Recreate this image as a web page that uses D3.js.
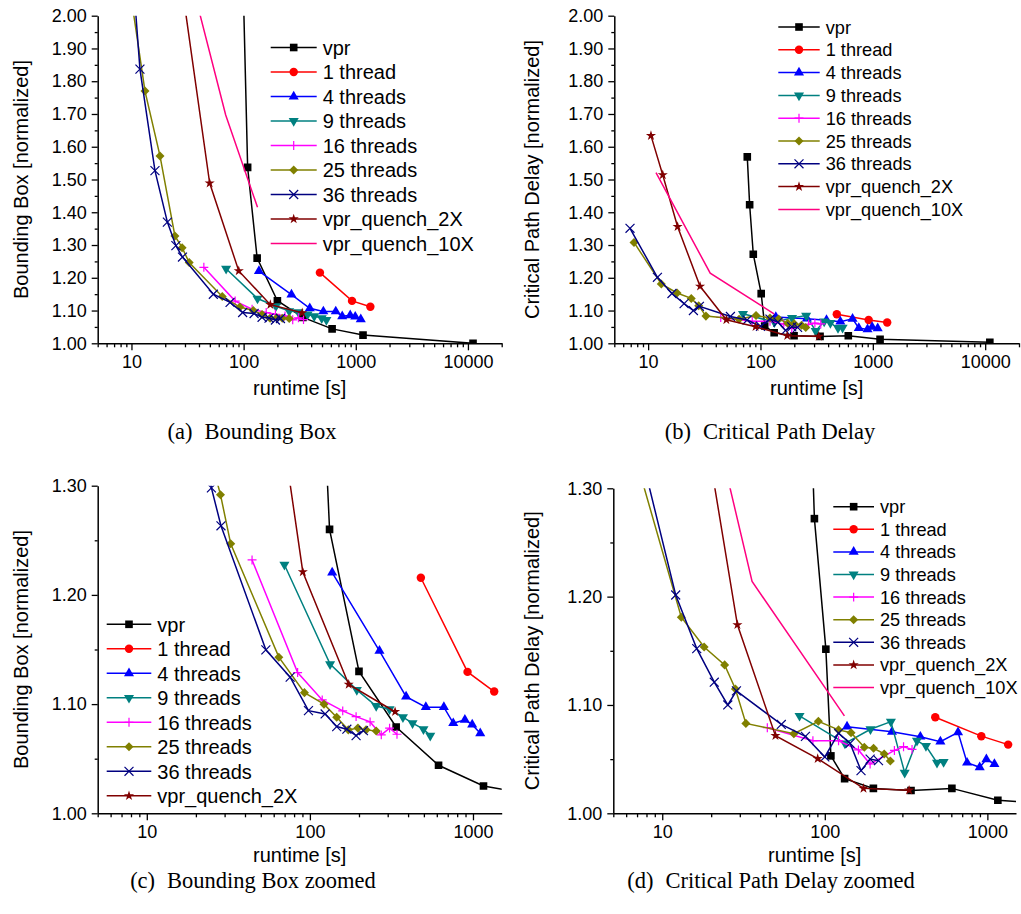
<!DOCTYPE html>
<html>
<head>
<meta charset="utf-8">
<script src="https://cdn.jsdelivr.net/npm/d3@7"></script>
<style>
body { margin: 0; background: #fff; }
</style>
</head>
<body>
<svg width="1021" height="914"></svg>
<script>
// bounding box series  [runtime s, normalized]
const vprBB = [[99,2.1],[108.6,1.537],[132,1.26],[200,1.13],[338,1.079],[615,1.044],[1160,1.025],[11100,1.0]]
const thread1BB = [[479,1.2157],[926,1.1295],[1349,1.1115]]
const thread4BB = [[137,1.2205],[267,1.1488],[389,1.1069],[514,1.0972],[663,1.0972],[757,1.0825],[892,1.0855],[989,1.0812],[1108,1.0733]]
const thread9BB = [[69.8,1.2276],[133,1.1366],[194,1.113],[255,1.0983],[308,1.0953],[372,1.088],[426,1.0825],[497,1.077],[547,1.0711]]
const thread16BB = [[44.2,1.232],[84.1,1.1289],[119,1.1038],[159,1.0938],[192,1.0885],[234,1.0837],[274,1.0718],[308,1.078],[342,1.0724]]
const thread25BB = [[10.2,2.03],[13.2,1.77],[17.96,1.572],[24.4,1.3275],[28.3,1.2918],[32.7,1.2468],[64.5,1.143],[92.6,1.1105],[122,1.0999],[146,1.088],[172,1.0764],[197,1.078],[221,1.0764],[255,1.0754]]
const thread36BB = [[10.8,2.03],[11.9,1.837],[16.2,1.527],[20.9,1.37],[24.9,1.298],[28.5,1.2633],[53.7,1.1497],[75.7,1.1247],[98,1.094],[124,1.091],[146,1.0794],[168.5,1.077],[192,1.0711],[213,1.0757]]
const quench2BB = [[29,2.06],[49.8,1.489],[90.5,1.221],[173,1.118],[333,1.093]]
const quench10BB = [[39,2.03],[69.2,1.697],[133,1.415]]

// critical path delay series
const vprCPD = [[76.3,1.569],[80.1,1.423],[86.3,1.272],[101.5,1.1515],[109,1.053],[132.4,1.032],[199,1.023],[339,1.021],[605,1.023],[1160,1.012],[11000,1.003]]
const thread1CPD = [[478,1.0887],[918,1.0712],[1342,1.0634]]
const thread4CPD = [[137,1.08],[259,1.0753],[387,1.0707],[514,1.0661],[660,1.0748],[750,1.0467],[897,1.0425],[986,1.0499],[1105,1.0455]]
const thread9CPD = [[69.9,1.09],[133,1.0646],[191,1.0776],[255,1.0846],[310,1.0375],[369,1.067],[419,1.0621],[490,1.0467],[538,1.0474]]
const thread16CPD = [[44.3,1.079],[84.5,1.067],[121.5,1.067],[161,1.0585],[190,1.0455],[268,1.058],[305,1.0615],[344,1.059]]
const thread25CPD = [[7.49,1.308],[13.1,1.181],[18.1,1.1535],[24.2,1.137],[28.2,1.1148],[32.7,1.083],[64.5,1.0735],[91.3,1.085],[121.5,1.077],[145,1.0744],[175,1.061],[199.5,1.06],[232,1.0548],[253,1.0483]]
const thread36CPD = [[6.9,1.351],[12.1,1.2015],[16.3,1.152],[20.9,1.121],[25.3,1.1],[28.6,1.113],[54,1.082],[76,1.071],[100,1.052],[121.5,1.074],[143,1.0646],[167,1.0394],[190,1.05],[214,1.0486]]
const quench2CPD = [[10.6,1.634],[13.5,1.514],[18.3,1.356],[29,1.174],[49.7,1.0717],[90.4,1.0505],[173,1.023],[330,1.0213]]
const quench10CPD = [[11.75,1.521],[35.7,1.214],[132,1.09]]

const seriesNames = ["vpr","1 thread","4 threads","9 threads","16 threads","25 threads","36 threads","vpr_quench_2X","vpr_quench_10X"]
const seriesColors = ["#000000","#ff0000","#0000ff","#008080","#ff00ff","#808000","#000080","#800000","#ff0080"]
const seriesMarkers = ["square","circle","triangle","triangleDown","plus","diamond","x","star","none"]
const bbData = [vprBB, thread1BB, thread4BB, thread9BB, thread16BB, thread25BB, thread36BB, quench2BB, quench10BB]
const cpdData = [vprCPD, thread1CPD, thread4CPD, thread9CPD, thread16CPD, thread25CPD, thread36CPD, quench2CPD, quench10CPD]

const xTicksFull = [10, 100, 1000, 10000]
const xTicksZoom = [10, 100, 1000]
const yTicksFull = d3.range(0, 11).map(i => 1 + i / 10)
const yTicksZoom = [1.0, 1.1, 1.2, 1.3]

const panels = [
    {box: [97.7, 15.7, 501.7, 343.3], xDomain: [5, 20000], yDomain: [1, 2], xTicks: xTicksFull, yTicks: yTicksFull,
     data: bbData, yTitle: "Bounding Box [normalized]", titleX: 28, xTitleDy: 52,
     legend: {x: 270.7, y: 47.5, step: 24.5, size: 20, tx: 322.7, count: 9},
     caption: ["(a)", "Bounding Box"], capX: 252, capY: 439},
    {box: [614.3, 15.7, 1019, 343.3], xDomain: [5, 20000], yDomain: [1, 2], xTicks: xTicksFull, yTicks: yTicksFull,
     data: cpdData, yTitle: "Critical Path Delay [normalized]", titleX: 539, xTitleDy: 52,
     legend: {x: 778.3, y: 27, step: 22.8, size: 18.2, tx: 825.7, count: 9},
     caption: ["(b)", "Critical Path Delay"], capX: 770, capY: 439},
    {box: [97.7, 485.7, 501.7, 813.3], xDomain: [5, 1500], yDomain: [1, 1.3], xTicks: xTicksZoom, yTicks: yTicksZoom,
     data: bbData, yTitle: "Bounding Box [normalized]", titleX: 28, xTitleDy: 49,
     legend: {x: 106.7, y: 624.3, step: 24.5, size: 20, tx: 157.3, count: 8},
     caption: ["(c)", "Bounding Box zoomed"], capX: 253, capY: 888},
    {box: [613.3, 488.3, 1016, 813.3], xDomain: [5, 1500], yDomain: [1, 1.3], xTicks: xTicksZoom, yTicks: yTicksZoom,
     data: cpdData, yTitle: "Critical Path Delay [normalized]", titleX: 539, xTitleDy: 49,
     legend: {x: 833.3, y: 506.7, step: 22.6, size: 18.2, tx: 880, count: 9},
     caption: ["(d)", "Critical Path Delay zoomed"], capX: 771, capY: 888}
]

const svg = d3.select("svg")
const sans = "'Liberation Sans', Arial, sans-serif"

const symbolFor = {
    square: d3.symbol().type(d3.symbolSquare).size(58),
    circle: d3.symbol().type(d3.symbolCircle).size(56),
    triangle: d3.symbol().type(d3.symbolTriangle).size(44),
    triangleDown: d3.symbol().type(d3.symbolTriangle).size(44),
    plus: d3.symbol().type(d3.symbolPlus).size(28),
    diamond: d3.symbol().type(d3.symbolDiamond2).size(52),
    x: d3.symbol().type(d3.symbolX).size(54),
    star: d3.symbol().type(d3.symbolStar).size(32)
}
const strokeOnly = m => m === "plus" || m === "x"

const drawMarker = (g, m, color, px, py) => {
    if (m === "none") return
    const p = g.append("path")
        .attr("d", symbolFor[m]())
        .attr("transform", `translate(${px},${py})` + (m === "triangleDown" ? " rotate(180)" : ""))
    if (strokeOnly(m)) p.attr("fill", "none").attr("stroke", color).attr("stroke-width", 1.2)
    else p.attr("fill", color)
}

// minor ticks between decades
const minorLog = (domain) => {
    const out = []
    for (let e = 0; e <= 5; e++) {
        for (let k = 2; k <= 9; k++) {
            const v = k * Math.pow(10, e)
            if (v >= domain[0] && v <= domain[1]) out.push(v)
        }
    }
    return out
}

panels.forEach((p, pi) => {
    const [l, t, r, b] = p.box
    const x = d3.scaleLog().domain(p.xDomain).range([l, r])
    const y = d3.scaleLinear().domain(p.yDomain).range([b, t])

    const clipId = "clip" + pi
    svg.append("clipPath").attr("id", clipId)
        .append("rect").attr("x", l).attr("y", t).attr("width", r - l).attr("height", b - t)

    const plot = svg.append("g").attr("clip-path", `url(#${clipId})`)
    const line = d3.line().x(d => x(d[0])).y(d => y(d[1]))

    p.data.forEach((ser, si) => {
        plot.append("path")
            .attr("d", line(ser))
            .attr("fill", "none")
            .attr("stroke", seriesColors[si])
            .attr("stroke-width", 1.5)
        ser.forEach(d => drawMarker(plot, seriesMarkers[si], seriesColors[si], x(d[0]), y(d[1])))
    })

    // axes
    const yMinor = p.yTicks.slice(0, -1).map(v => v + 0.05)
    svg.append("g").attr("transform", `translate(${l},0)`)
        .call(d3.axisLeft(y).tickValues(yMinor).tickSize(3).tickFormat(""))
        .call(g => g.select(".domain").remove())
    const yAx = svg.append("g").attr("transform", `translate(${l},0)`)
        .call(d3.axisLeft(y).tickValues(p.yTicks).tickFormat(d3.format(".2f")).tickSize(6).tickSizeOuter(0).tickPadding(5))
    yAx.selectAll("text").attr("font-family", sans).attr("font-size", 18).attr("fill", "#000")

    svg.append("g").attr("transform", `translate(0,${b})`)
        .call(d3.axisBottom(x).tickValues(minorLog(p.xDomain)).tickSize(4).tickFormat(""))
        .call(g => g.select(".domain").remove())
    const xAx = svg.append("g").attr("transform", `translate(0,${b})`)
        .call(d3.axisBottom(x).tickValues(p.xTicks).tickFormat(d3.format("d")).tickSize(7).tickSizeOuter(0).tickPadding(5))
    xAx.selectAll("text").attr("font-family", sans).attr("font-size", 18).attr("fill", "#000")

    svg.selectAll(".tick line").attr("stroke", "#000").attr("stroke-width", 1.3)
    svg.selectAll(".domain").attr("stroke", "#000").attr("stroke-width", 1.5)

    // titles
    svg.append("text")
        .attr("x", (l + r) / 2).attr("y", b + p.xTitleDy)
        .attr("text-anchor", "middle").attr("font-family", sans).attr("font-size", 20)
        .text("runtime [s]")
    svg.append("text")
        .attr("transform", `translate(${p.titleX},${(t + b) / 2}) rotate(-90)`)
        .attr("text-anchor", "middle").attr("font-family", sans).attr("font-size", 20)
        .text(p.yTitle)

    // legend
    const lg = p.legend
    for (let i = 0; i < lg.count; i++) {
        const ly = lg.y + i * lg.step
        const row = svg.append("g")
        row.append("line")
            .attr("x1", lg.x).attr("x2", lg.tx - 6)
            .attr("y1", ly).attr("y2", ly)
            .attr("stroke", seriesColors[i]).attr("stroke-width", 1.5)
        drawMarker(row, seriesMarkers[i], seriesColors[i], (lg.x + lg.tx - 6) / 2, ly)
        row.append("text")
            .attr("x", lg.tx).attr("y", ly).attr("dy", "0.36em")
            .attr("font-family", sans).attr("font-size", lg.size)
            .text(seriesNames[i])
    }

    // caption
    const cap = svg.append("text")
        .attr("x", p.capX).attr("y", p.capY)
        .attr("text-anchor", "middle")
        .attr("font-family", "'Liberation Serif', 'Times New Roman', serif")
        .attr("font-size", 22.5)
    cap.append("tspan").text(p.caption[0])
    cap.append("tspan").attr("dx", 12).text(p.caption[1])
})
</script>
</body>
</html>
